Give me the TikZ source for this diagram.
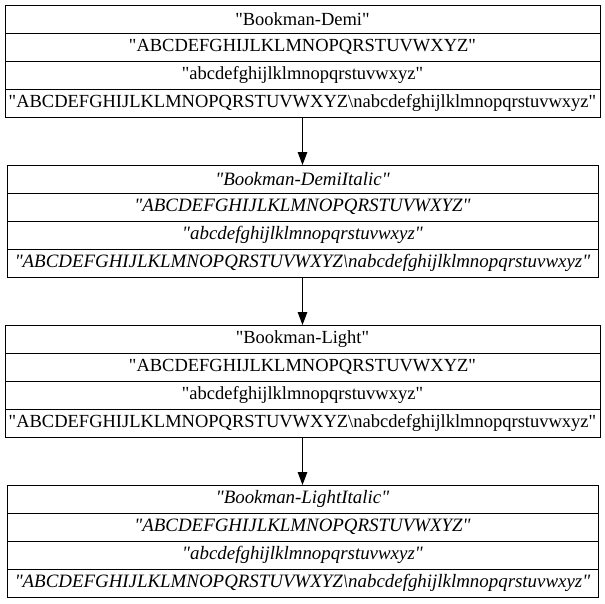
\documentclass[tikz,border=0pt]{standalone}
\usepackage{fontspec}
\setmainfont{Liberation Serif}
\usepackage{tikz}
\usetikzlibrary{positioning}
\usetikzlibrary{arrows.meta}
\newcommand{\dq}[1]{\textquotedbl#1\textquotedbl}
\tikzstyle{field} = [rectangle, draw=black, line width=1pt, minimum width=595pt, minimum height=28pt, inner sep=0pt, outer sep=0pt, text centered, font=\fontsize{18.5}{22}\selectfont]
\tikzstyle{slant} = [minimum width=591pt, font=\fontsize{18.9}{22}\selectfont\itshape]
\tikzstyle{arrow} = [line width=1pt,-{Triangle[length=13pt,width=9.5pt]}]

\begin{document}
\begin{tikzpicture}
\useasboundingbox (0pt,0pt) rectangle (605pt,-603pt);

\node[field] (demititle) at (302.5pt,-19pt) {\dq{Bookman-Demi}};
\node[field, below=0pt of demititle] (demiupper) {\dq{ABCDEFGHIJLKLMNOPQRSTUVWXYZ}};
\node[field, below=0pt of demiupper] (demilower) {\dq{abcdefghijlklmnopqrstuvwxyz}};
\node[field, below=0pt of demilower] (demiboth) {\dq{ABCDEFGHIJLKLMNOPQRSTUVWXYZ\textbackslash nabcdefghijlklmnopqrstuvwxyz}};

\node[field, slant, below=48pt of demiboth] (demiittitle) {\dq{Bookman-DemiItalic}};
\node[field, slant, below=0pt of demiittitle] (demiitupper) {\dq{ABCDEFGHIJLKLMNOPQRSTUVWXYZ}};
\node[field, slant, below=0pt of demiitupper] (demiitlower) {\dq{abcdefghijlklmnopqrstuvwxyz}};
\node[field, slant, below=0pt of demiitlower] (demiitboth) {\dq{ABCDEFGHIJLKLMNOPQRSTUVWXYZ\textbackslash nabcdefghijlklmnopqrstuvwxyz}};

\node[field, below=48pt of demiitboth] (lighttitle) {\dq{Bookman-Light}};
\node[field, below=0pt of lighttitle] (lightupper) {\dq{ABCDEFGHIJLKLMNOPQRSTUVWXYZ}};
\node[field, below=0pt of lightupper] (lightlower) {\dq{abcdefghijlklmnopqrstuvwxyz}};
\node[field, below=0pt of lightlower] (lightboth) {\dq{ABCDEFGHIJLKLMNOPQRSTUVWXYZ\textbackslash nabcdefghijlklmnopqrstuvwxyz}};

\node[field, slant, below=48pt of lightboth] (lightittitle) {\dq{Bookman-LightItalic}};
\node[field, slant, below=0pt of lightittitle] (lightitupper) {\dq{ABCDEFGHIJLKLMNOPQRSTUVWXYZ}};
\node[field, slant, below=0pt of lightitupper] (lightitlower) {\dq{abcdefghijlklmnopqrstuvwxyz}};
\node[field, slant, below=0pt of lightitlower] (lightitboth) {\dq{ABCDEFGHIJLKLMNOPQRSTUVWXYZ\textbackslash nabcdefghijlklmnopqrstuvwxyz}};

\draw[arrow] (demiboth) -- (demiittitle);
\draw[arrow] (demiitboth) -- (lighttitle);
\draw[arrow] (lightboth) -- (lightittitle);
\end{tikzpicture}
\end{document}
